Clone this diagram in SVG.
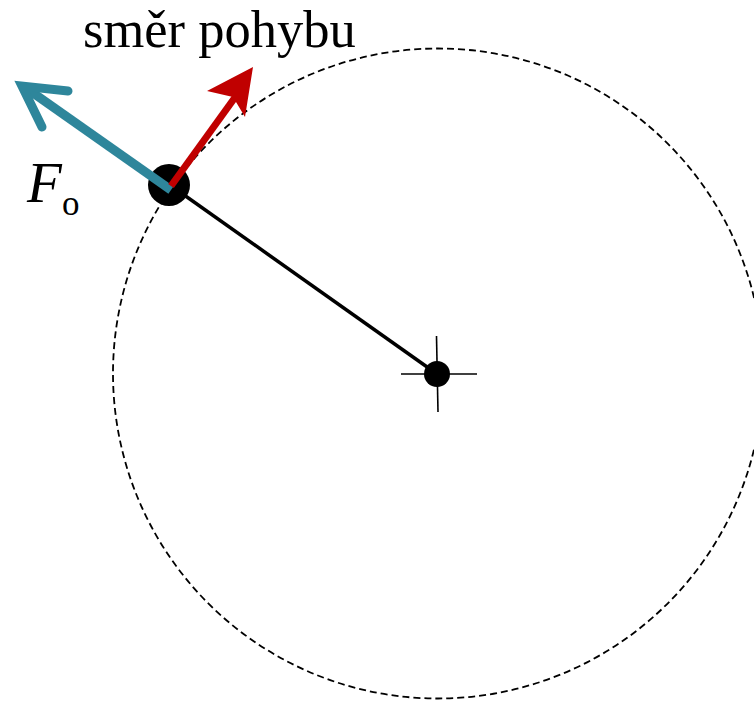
<svg xmlns="http://www.w3.org/2000/svg" width="754" height="702" viewBox="0 0 754 702">
<style>
.lbl{font-family:"Liberation Serif","Times New Roman",serif;fill:#000}
</style>
<rect width="754" height="702" fill="#fff"/>
<g id="orbit"><circle cx="438" cy="373.5" r="325" fill="none" stroke="#000" stroke-width="1.8" stroke-dasharray="7 4"/></g>
<g id="connectors">
<line x1="170" y1="185" x2="437" y2="374" stroke="#000" stroke-width="3.5"/>
</g>
<g id="center">
<line x1="401" y1="374" x2="477" y2="374" stroke="#000" stroke-width="1.6"/>
<line x1="436.5" y1="336" x2="438" y2="412" stroke="#000" stroke-width="1.6"/>
<circle cx="437" cy="374" r="13" fill="#000"/>
</g>
<g id="ball"><circle cx="169" cy="185" r="21" fill="#000"/></g>
<g id="force">
<line x1="171" y1="190" x2="26" y2="88" stroke="#2E869B" stroke-width="9"/>
<polyline points="68,91 22,86 42,127" fill="none" stroke="#2E869B" stroke-width="9" stroke-linecap="round" stroke-linejoin="miter" stroke-miterlimit="10"/>
</g>
<g id="velocity">
<line x1="171" y1="186" x2="236" y2="96" stroke="#C00000" stroke-width="7"/>
<polygon points="253,67 207,91 233,97 245,117" fill="#C00000"/>
</g>
<g id="labels">
<text class="lbl" x="83" y="47" font-size="52.5">směr pohybu</text>
<text class="lbl" x="27" y="202" font-size="57" font-style="italic">F</text>
<text class="lbl" x="62" y="215" font-size="35">o</text>
</g>
</svg>
